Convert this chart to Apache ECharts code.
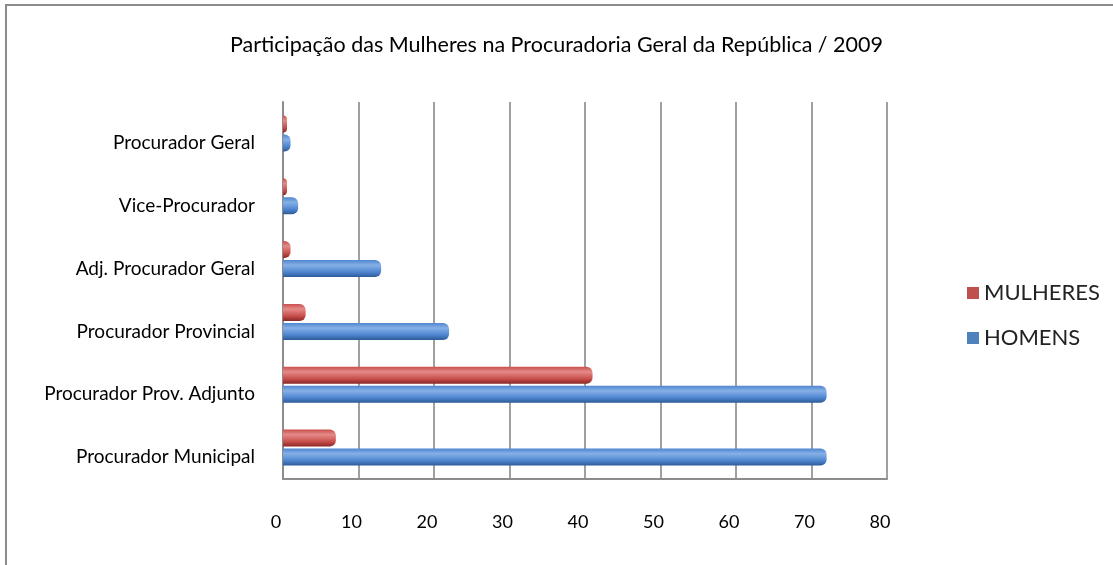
<!DOCTYPE html>
<html>
<head>
<meta charset="utf-8">
<script src="https://cdn.jsdelivr.net/npm/echarts@6/dist/echarts.min.js"></script>
<style>
  html, body { margin: 0; padding: 0; background: #fff; }
  #frame { position: absolute; left: 5px; top: 4px; width: 1120px; height: 580px;
           border-top: 2px solid #8c8c8c; border-left: 2px solid #8c8c8c; }
  #main { position: absolute; left: 0; top: 0; width: 1113px; height: 565px; }
</style>
</head>
<body>
<div id="frame"></div>
<div id="main"></div>
<script>
// categorias (de cima para baixo)
var categorias = ['Procurador Geral', 'Vice-Procurador', 'Adj. Procurador Geral',
  'Procurador Provincial', 'Procurador Prov. Adjunto', 'Procurador Municipal'];
var mulheres = [0, 0, 1, 3, 41, 7];
var homens = [1, 2, 13, 22, 72, 72];
var ticksX = [0, 10, 20, 30, 40, 50, 60, 70, 80];

var fonte = 'Lato, Open Sans, sans-serif';

// gradiente para dar aspecto de cilindro
function cilindro(claro, medio, escuro) {
  return new echarts.graphic.LinearGradient(0, 0, 0, 1, [
    { offset: 0, color: medio },
    { offset: 0.3, color: claro },
    { offset: 0.7, color: medio },
    { offset: 1, color: escuro }
  ]);
}

var chart = echarts.init(document.getElementById('main'));
var option = {
  backgroundColor: 'transparent',
  animation: false,
  title: {
    text: 'Participação das Mulheres na Procuradoria Geral da República / 2009',
    left: 'center', top: 29,
    padding: [5, 0, 5, 14],
    textStyle: { fontFamily: fonte, fontSize: 21.5, fontWeight: 'normal', color: '#000' }
  },
  legend: {
    data: [
      { name: 'MULHERES', itemStyle: { color: '#c0504d' } },
      { name: 'HOMENS', itemStyle: { color: '#4f81bd' } }
    ],
    orient: 'vertical',
    left: 962, top: 277,
    itemWidth: 12, itemHeight: 12, itemGap: 23,
    icon: 'rect',
    textStyle: { fontFamily: fonte, fontSize: 22, color: '#222' }
  },
  grid: { left: 283, right: 226, top: 102, height: 377, containLabel: false },
  xAxis: {
    type: 'value',
    min: 0, max: ticksX[ticksX.length - 1], interval: 10,
    axisLine: { show: true, lineStyle: { color: '#8c8c8c', width: 2 } },
    axisTick: { show: false },
    splitLine: { show: true, lineStyle: { color: '#a0a0a0', width: 2 } },
    axisLabel: {
      margin: 34, padding: [0, 14, 0, 0],
      fontFamily: fonte, fontSize: 18, color: '#000'
    }
  },
  yAxis: {
    type: 'category',
    data: categorias,
    inverse: true,
    axisLine: { show: true, lineStyle: { color: '#8c8c8c', width: 2 } },
    axisTick: { show: false },
    axisLabel: {
      margin: 28, verticalAlign: 'top',
      fontFamily: fonte, fontSize: 19, color: '#000'
    }
  },
  series: [
    {
      name: 'MULHERES', type: 'bar', data: mulheres,
      barWidth: 17, barGap: '12%', barMinHeight: 4,
      itemStyle: {
        color: cilindro('#e58a88', '#c9504d', '#8a2826'),
        borderRadius: [0, 6, 6, 0]
      }
    },
    {
      name: 'HOMENS', type: 'bar', data: homens,
      barWidth: 17, barGap: '12%',
      itemStyle: {
        color: cilindro('#86b0e6', '#4f86d0', '#2c5a98'),
        borderRadius: [0, 6, 6, 0]
      }
    }
  ]
};
chart.setOption(option);
</script>
</body>
</html>
